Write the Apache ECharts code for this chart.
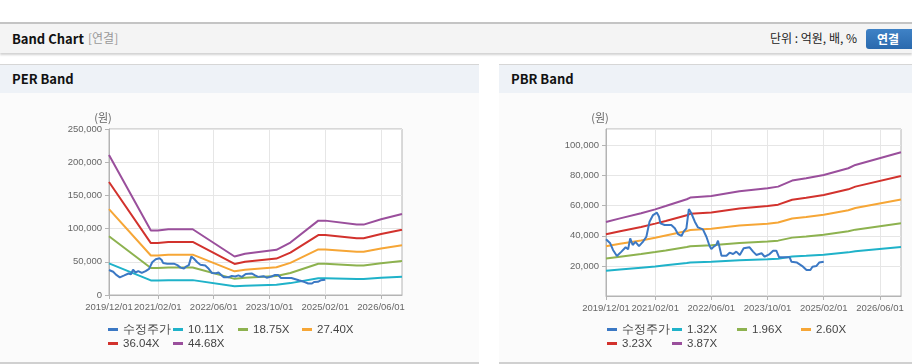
<!DOCTYPE html>
<html><head><meta charset="utf-8">
<script src="https://cdn.jsdelivr.net/npm/echarts@6/dist/echarts.min.js"></script>
<style>
html,body{margin:0;padding:0;width:912px;height:364px;overflow:hidden;background:#fff;font-family:"Noto Sans CJK KR","Noto Sans",sans-serif;}
#topbar{position:absolute;left:0;top:22px;width:912px;height:29px;background:#f4f4f4;border-top:2px solid #c4c4c4;box-shadow:0 2px 2px rgba(0,0,0,0.18);}
#topbar .t{position:absolute;left:12px;top:5px;font-size:13px;font-weight:bold;color:#111;}
#topbar .s{position:absolute;left:88px;top:5px;font-size:12px;color:#999;}
#topbar .u{position:absolute;left:770px;top:5px;font-size:12px;color:#222;}
#topbar .b{position:absolute;left:866px;top:5px;width:52px;height:20px;border-radius:3px;background:linear-gradient(#3f82c6,#2a69ad);color:#fff;font-size:12px;font-weight:bold;line-height:20px;text-indent:11px;}
.panel{position:absolute;top:64px;height:297px;background:#fbfbfb;border-top:1px solid #d6d6d6;border-bottom:2px solid #d0d0d0;}
.panel .h{height:28px;background:#eef2f7;font-size:13px;font-weight:bold;color:#111;line-height:28px;padding-left:12px;}
#chart{position:absolute;left:0;top:0;width:912px;height:364px;}
</style></head>
<body>
<div id="topbar"><span class="t">Band Chart</span><span class="s">[연결]</span><span class="u">단위 : 억원, 배, %</span><span class="b">연결</span></div>
<div class="panel" style="left:0;width:479px;"><div class="h">PER Band</div></div>
<div class="panel" style="left:499px;width:413px;"><div class="h">PBR Band</div></div>
<div id="chart"></div>
<script>
// ---- data ----
const xTickLabels = ['2019/12/01','2021/02/01','2022/06/01','2023/10/01','2025/02/01','2026/06/01'];
const xEnd = '2026-12-01';

const priceDates = ['2019-12-01','2020-01-07','2020-02-01','2020-03-04','2020-04-13','2020-05-19','2020-06-10','2020-06-28','2020-07-19','2020-08-13','2020-09-13','2020-10-16','2020-11-16','2020-12-13','2021-01-13','2021-02-16','2021-03-04','2021-03-16','2021-04-22','2021-06-19','2021-07-19','2021-08-16','2021-09-16','2021-10-04','2021-10-28','2021-11-19','2021-12-10','2022-01-10','2022-02-07','2022-03-19','2022-04-19','2022-05-16','2022-06-01','2022-06-22','2022-07-13','2022-07-28','2022-08-28','2022-10-10','2022-11-07','2022-12-07','2023-01-04','2023-02-04','2023-03-07','2023-04-28','2023-05-28','2023-06-25','2023-08-10','2023-09-07','2023-10-19','2023-11-19','2023-12-16','2024-01-10','2024-04-10','2024-04-25','2024-06-13','2024-08-04','2024-09-04','2024-10-07','2024-10-25','2024-11-28','2024-12-22','2025-02-01'];
const priceValues = [37700,35000,30600,26600,29500,32400,31000,38300,33900,36000,33200,36000,39400,49400,53800,55400,52700,48300,47200,47200,45000,41200,39900,42800,45000,57800,55000,49400,45600,44300,39400,33200,31200,32800,33900,36800,26800,26800,28800,27900,29500,27300,31700,32400,29500,27300,28400,26100,27900,30100,30100,25700,25700,22800,22200,19500,17300,17300,19500,19900,22200,22800];

const perBandDates = ['2019-12-01','2020-12-01','2021-02-01','2021-05-01','2021-12-01','2022-12-01','2023-03-01','2023-12-01','2024-04-01','2024-12-01','2025-02-01','2025-11-01','2026-01-01','2026-06-01','2026-12-01'];
const perNames = ['수정주가','10.11X','18.75X','27.40X','36.04X','44.68X'];
const per1011 = [47700,22000,22000,22400,22400,13100,14000,15400,17900,25300,25300,24000,24000,25800,27600];
const per1875 = [88500,40700,40700,41500,41500,24300,26000,28500,33100,47000,47000,44500,44500,47800,51200];
const per2740 = [129400,59500,59500,60700,60700,35600,38000,41700,48400,68700,68700,65000,65000,69900,74800];
const per3604 = [170200,78200,78200,79900,79900,46800,50000,54800,63700,90300,90300,85500,85500,92000,98400];
const per4468 = [211000,97000,97000,99000,99000,58000,62000,68000,79000,112000,112000,106000,106000,114000,122000];
const perYTicks = [0,50000,100000,150000,200000,250000];

const pbrBandDates = ['2019-12-01','2020-04-01','2020-10-01','2021-02-01','2021-05-01','2021-11-01','2021-12-01','2022-06-01','2023-02-01','2023-10-01','2024-01-01','2024-05-01','2024-09-01','2025-02-01','2025-09-01','2025-11-01','2026-12-01'];
const pbrNames = ['수정주가','1.32X','1.96X','2.60X','3.23X','3.87X'];
const pbr132 = [16800,17600,18800,19600,20400,21900,22300,22700,23700,24400,24800,26200,26700,27400,29000,29700,32600];
const pbr196 = [24900,26100,27900,29200,30300,32600,33100,33700,35300,36300,36800,38800,39600,40700,43000,44100,48400];
const pbr260 = [33100,34700,36900,38700,40200,43200,43900,44700,46800,48100,48800,51500,52500,54000,57000,58500,64200];
const pbr323 = [41100,43100,45900,48100,49900,53700,54600,55500,58100,59800,60700,64000,65300,67100,70900,72700,79700];
const pbr387 = [49200,51600,55000,57600,59800,64300,65400,66500,69600,71600,72700,76700,78200,80400,84900,87100,95500];
const pbrYTicks = [20000,40000,60000,80000,100000];

// ---- helpers ----
function mIdx(s){const p=s.split(/[-\/]/).map(Number);return (p[0]-2019)*12+(p[1]-12)+(p[2]-1)/30.4;}
const tickVals = xTickLabels.map(mIdx);
function pairs(dates, vals){return dates.map((d,i)=>[mIdx(d), vals[i]]);}
const colors = ['#3b78c4','#1fb2c9','#8db24f','#f6a636','#d2322d','#9a4f9c'];
const fmt = v => v.toLocaleString('en-US');

function xAxis(gi){
  return {type:'value', gridIndex:gi, min:0, max:mIdx(xEnd),
    axisLine:{lineStyle:{color:'#b4b4b4'}},
    axisTick:{customValues:tickVals, length:4, lineStyle:{color:'#b4b4b4'}},
    axisLabel:{customValues:tickVals, margin:7, color:'#666', fontSize:9.5, fontFamily:'Liberation Sans',
      formatter:v=>{let b=0;for(let i=0;i<tickVals.length;i++){if(Math.abs(tickVals[i]-v)<Math.abs(tickVals[b]-v))b=i;}return xTickLabels[b];}},
    splitLine:{show:true, lineStyle:{color:'#e6e6e6'}}};
}
function yAxis(gi, max, interval, showMin){
  return {type:'value', gridIndex:gi, min:0, max:max, interval:interval,
    name:'(원)', nameLocation:'end', nameGap:6,
    nameTextStyle:{color:'#666', fontSize:11, fontFamily:'Noto Sans CJK KR', padding:[0,12,0,0]},
    axisLine:{show:true, lineStyle:{color:'#b4b4b4'}},
    axisTick:{show:true, length:4, lineStyle:{color:'#b4b4b4'}},
    axisLabel:{margin:7, color:'#666', fontSize:9.5, fontFamily:'Liberation Sans', formatter:fmt, showMinLabel:showMin, showMaxLabel:showMin},
    splitLine:{show:true, lineStyle:{color:'#e6e6e6'}}};
}
function line(name, data, ci, gi){
  return {type:'line', name:name, xAxisIndex:gi, yAxisIndex:gi, data:data, showSymbol:false, symbol:'none',
    color:colors[ci], lineStyle:{width:2, color:colors[ci]}, emphasis:{disabled:true}, z: ci===0?10:5};
}
const series = [];
const perBands = [per1011, per1875, per2740, per3604, per4468];
const pbrBands = [pbr132, pbr196, pbr260, pbr323, pbr387];
perBands.forEach((b,i)=>series.push(line(perNames[i+1], pairs(perBandDates,b), i+1, 0)));
series.push(line(perNames[0], pairs(priceDates, priceValues), 0, 0));
pbrBands.forEach((b,i)=>series.push(line(pbrNames[i+1], pairs(pbrBandDates,b), i+1, 1)));
series.push(line(pbrNames[0]+' ', pairs(priceDates, priceValues), 0, 1));

const legends = [];
const colX = [0,65,130,194], rowY = [323.5,337.5];
function addLegends(names, x0, suffix0){
  names.forEach((n,i)=>{
    const nm = (i===0 && suffix0) ? n+' ' : n;
    legends.push({data:[{name:nm, itemStyle:{color:colors[i]}}], left:x0+colX[i%4], top:rowY[Math.floor(i/4)], padding:0,
      icon:'rect', itemWidth:10, itemHeight:3, selectedMode:false,
      textStyle:{color:'#444', fontSize:11.5, fontFamily:'Liberation Sans'},
      formatter:n=>n.trim()});
  });
}
addLegends(perNames, 108, false);
addLegends(pbrNames, 607, true);

const chart = echarts.init(document.getElementById('chart'), null, {renderer:'canvas'});
chart.setOption({
  animation:false,
  backgroundColor:'transparent',
  grid:[
    {left:109, top:129, width:293, height:166, show:true, borderColor:'#b4b4b4', borderWidth:1, backgroundColor:'#fff'},
    {left:606, top:129, width:295, height:167, show:true, borderColor:'#b4b4b4', borderWidth:1, backgroundColor:'#fff'}
  ],
  xAxis:[xAxis(0), xAxis(1)],
  yAxis:[yAxis(0, perYTicks[perYTicks.length-1], perYTicks[1]-perYTicks[0], true), yAxis(1, 111000, pbrYTicks[1]-pbrYTicks[0], false)],
  legend:legends,
  series:series
});
</script>
</body></html>
